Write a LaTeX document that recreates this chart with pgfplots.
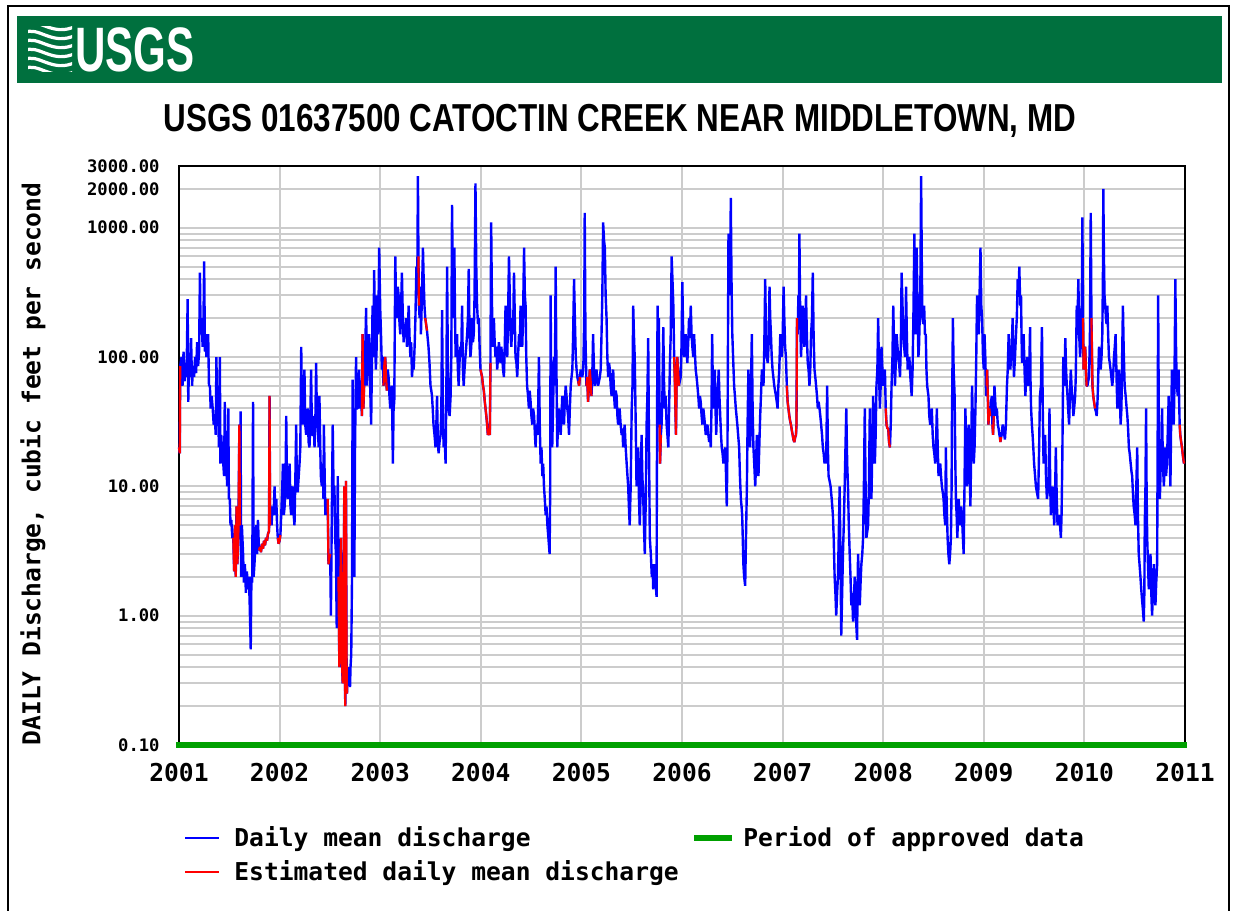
\documentclass[border=0pt]{standalone}
\usepackage{pgfplots}
\pgfplotsset{compat=1.18}
\usepackage{fontspec}
\setmainfont{Liberation Sans}
\newfontfamily\monob{DejaVu Sans Mono}
\definecolor{usgsgreen}{RGB}{0,112,62}
\definecolor{apgreen}{RGB}{0,160,0}
\definecolor{gridgray}{RGB}{204,204,204}
\pgfplotsset{est/.style={draw=red, mark=none, line width=1.1pt, line join=bevel}}
\begin{document}
\begin{tikzpicture}
\path[use as bounding box] (0,0) rectangle (616.5pt,455.5pt);
\begin{scope}[shift={(0pt,455.5pt)},x=0.5pt,y=-0.5pt]
  \draw[line width=1pt] (8,911) -- (8,6) -- (1229,6) -- (1229,911);
  \fill[usgsgreen] (17,16) rectangle (1222,83);
  \begin{scope}
    \clip (28,27) rectangle (72,72);
    \foreach \k in {0,...,5} {
      \draw[white, line width=1.6pt] (24,{24+9*\k}) .. controls (38,{16+9*\k}) and (52,{38+9*\k}) .. (76,{26+9*\k});
    }
  \end{scope}
  \node[white, inner sep=0pt] at (135,50) {\scalebox{0.67}[1]{\fontsize{31.4pt}{32pt}\selectfont\bfseries USGS}};
  \node[inner sep=0pt] at (620,121) {\scalebox{0.805}[1]{\fontsize{19.5pt}{20pt}\selectfont\bfseries USGS 01637500 CATOCTIN CREEK NEAR MIDDLETOWN, MD}};
  \node[inner sep=0pt, rotate=90] at (33,464) {\monob\bfseries\fontsize{12.3pt}{13pt}\selectfont DAILY Discharge, cubic feet per second};
  \draw[blue, line width=1pt] (185,838) -- (219,838);
  \node[anchor=base west, inner sep=0pt] at (234,847) {\monob\bfseries\fontsize{12.3pt}{13pt}\selectfont Daily mean discharge};
  \draw[red, line width=1pt] (185,872) -- (219,872);
  \node[anchor=base west, inner sep=0pt] at (234,881) {\monob\bfseries\fontsize{12.3pt}{13pt}\selectfont Estimated daily mean discharge};
  \draw[apgreen, line width=3pt] (694,838) -- (732,838);
  \node[anchor=base west, inner sep=0pt] at (743,847) {\monob\bfseries\fontsize{12.3pt}{13pt}\selectfont Period of approved data};
\end{scope}
\begin{axis}[
  at={(89.5pt,83pt)}, anchor=south west,
  scale only axis, width=503pt, height=289.5pt,
  ymode=log, xmin=2001, xmax=2011, ymin=0.1, ymax=3000,
  xtick={2001,2002,2003,2004,2005,2006,2007,2008,2009,2010,2011},
  xticklabels={2001,2002,2003,2004,2005,2006,2007,2008,2009,2010,2011},
  ytick={0.1,1,10,100,1000,2000,3000},
  yticklabels={0.10,1.00,10.00,100.00,1000.00,2000.00,3000.00},
  minor ytick={0.2,0.3,0.4,0.5,0.6,0.7,0.8,0.9,2,3,4,5,6,7,8,9,20,30,40,50,60,70,80,90,200,300,400,500,600,700,800,900},
  grid=both,
  major grid style={draw=gridgray, line width=1pt},
  minor grid style={draw=gridgray, line width=1pt},
  major tick length=0pt, minor tick length=0pt,
  axis line style={line width=1pt, black},
  xticklabel style={anchor=base, inner sep=0pt, yshift=-18.5pt, font=\monob\bfseries\fontsize{12.3pt}{13pt}\selectfont},
  yticklabel style={anchor=east, inner sep=0pt, xshift=-9.5pt, font=\monob\bfseries\fontsize{8.6pt}{9pt}\selectfont},
  clip=false,
]
\addplot[draw=blue, mark=none, line width=1.2pt, line join=bevel] coordinates {
(2001.000,20)(2001.008,18)(2001.012,85)(2001.025,100)(2001.035,60)(2001.045,110)(2001.055,65)(2001.065,90)(2001.075,70)(2001.086,280)
(2001.092,45)(2001.100,95)(2001.110,70)(2001.120,140)(2001.130,60)(2001.140,85)(2001.150,70)(2001.160,100)(2001.170,75)(2001.180,130)
(2001.190,85)(2001.200,110)(2001.208,450)(2001.215,150)(2001.224,200)(2001.235,120)(2001.243,180)(2001.250,550)(2001.258,110)(2001.264,150)
(2001.272,100)(2001.280,130)(2001.290,150)(2001.298,60)(2001.307,60)(2001.315,40)(2001.325,50)(2001.335,40)(2001.345,30)(2001.356,35)
(2001.365,25)(2001.372,100)(2001.380,30)(2001.388,60)(2001.396,20)(2001.406,100)(2001.412,15)(2001.420,25)(2001.428,18)(2001.440,15)
(2001.448,12)(2001.455,45)(2001.462,12)(2001.470,20)(2001.478,10)(2001.490,40)(2001.496,8)(2001.505,8)(2001.512,5)(2001.520,5.5)
(2001.530,4)(2001.540,4)(2001.548,2.2)(2001.556,5)(2001.564,2)(2001.572,7)(2001.580,2.5)(2001.590,4)(2001.600,30)(2001.606,5)
(2001.612,38)(2001.618,2)(2001.625,5)(2001.637,3)(2001.645,1.8)(2001.655,2.5)(2001.665,1.5)(2001.675,2.2)(2001.685,1.6)(2001.695,2)
(2001.703,1.2)(2001.713,0.55)(2001.720,2)(2001.728,1.8)(2001.736,45)(2001.742,2)(2001.750,2.5)(2001.760,3.5)(2001.768,5)(2001.776,3)
(2001.785,5.5)(2001.795,3.2)(2001.805,3.4)(2001.815,3.1)(2001.825,3.6)(2001.835,3.3)(2001.845,3.8)(2001.855,3.5)(2001.865,4)(2001.875,3.8)
(2001.885,4.3)(2001.895,4.5)(2001.900,50)(2001.906,5)(2001.912,7)(2001.920,5)(2001.930,7)(2001.940,6)(2001.950,10)(2001.958,6)
(2001.967,8)(2001.975,5)(2001.982,4)(2001.990,3.6)(2002.000,3.8)(2002.008,4.2)(2002.016,6)(2002.025,9)(2002.033,15)(2002.042,6)
(2002.050,7)(2002.058,10)(2002.066,35)(2002.074,9)(2002.082,8)(2002.090,12)(2002.100,15)(2002.108,7)(2002.115,6)(2002.123,9)
(2002.130,10)(2002.140,6)(2002.148,5)(2002.157,12)(2002.165,30)(2002.172,10)(2002.180,9)(2002.190,12)(2002.198,15)(2002.206,20)
(2002.215,120)(2002.222,40)(2002.230,30)(2002.238,50)(2002.247,80)(2002.255,30)(2002.264,25)(2002.272,35)(2002.280,40)(2002.288,22)
(2002.297,20)(2002.305,30)(2002.313,80)(2002.322,25)(2002.330,25)(2002.338,35)(2002.347,20)(2002.355,30)(2002.363,90)(2002.372,30)
(2002.380,30)(2002.388,20)(2002.396,50)(2002.404,20)(2002.410,12)(2002.420,10)(2002.430,15)(2002.436,8)(2002.440,30)(2002.448,12)
(2002.455,6)(2002.462,7)(2002.470,6)(2002.478,8)(2002.486,2.5)(2002.495,2.8)(2002.503,3)(2002.510,1.0)(2002.518,5)(2002.528,30)
(2002.536,10)(2002.545,10)(2002.552,4)(2002.560,3)(2002.568,0.8)(2002.574,3)(2002.578,12)(2002.585,2)(2002.594,0.4)(2002.600,1)
(2002.610,4)(2002.618,0.5)(2002.627,0.3)(2002.635,0.6)(2002.643,10)(2002.648,0.4)(2002.653,0.2)(2002.660,11)(2002.665,0.5)(2002.670,0.25)
(2002.677,0.35)(2002.683,0.3)(2002.690,0.4)(2002.700,0.28)(2002.705,0.4)(2002.712,0.5)(2002.720,2)(2002.726,67)(2002.732,10)(2002.738,5)
(2002.743,2)(2002.750,20)(2002.760,100)(2002.768,40)(2002.776,40)(2002.784,60)(2002.790,80)(2002.800,40)(2002.810,50)(2002.818,35)
(2002.825,150)(2002.833,40)(2002.840,60)(2002.850,100)(2002.860,240)(2002.868,60)(2002.875,100)(2002.882,80)(2002.890,150)(2002.900,60)
(2002.910,30)(2002.917,80)(2002.924,250)(2002.932,100)(2002.940,470)(2002.948,150)(2002.957,80)(2002.965,120)(2002.970,300)(2002.980,150)
(2002.990,700)(2003.000,240)(2003.008,150)(2003.017,80)(2003.025,100)(2003.033,60)(2003.042,90)(2003.050,100)(2003.058,70)(2003.066,55)
(2003.075,80)(2003.083,70)(2003.092,50)(2003.100,40)(2003.108,55)(2003.116,60)(2003.126,15)(2003.133,40)(2003.140,45)(2003.150,600)
(2003.158,250)(2003.166,200)(2003.175,350)(2003.183,300)(2003.192,180)(2003.200,150)(2003.208,250)(2003.216,450)(2003.225,200)(2003.233,130)
(2003.242,180)(2003.250,150)(2003.258,200)(2003.266,120)(2003.275,160)(2003.283,250)(2003.292,140)(2003.300,100)(2003.308,130)(2003.316,70)
(2003.325,90)(2003.333,80)(2003.342,120)(2003.350,200)(2003.360,500)(2003.368,300)(2003.375,2500)(2003.380,600)(2003.385,250)(2003.392,200)
(2003.398,350)(2003.405,150)(2003.415,300)(2003.425,700)(2003.432,400)(2003.440,250)(2003.448,200)(2003.456,180)(2003.465,160)(2003.472,140)
(2003.480,120)(2003.490,90)(2003.500,60)(2003.508,55)(2003.515,50)(2003.522,40)(2003.530,30)(2003.540,25)(2003.550,20)(2003.558,30)
(2003.565,50)(2003.572,25)(2003.580,18)(2003.590,22)(2003.600,25)(2003.608,40)(2003.615,230)(2003.622,50)(2003.630,20)(2003.640,25)
(2003.650,15)(2003.658,60)(2003.665,500)(2003.672,100)(2003.680,40)(2003.690,35)(2003.700,50)(2003.707,100)(2003.714,1500)(2003.722,400)
(2003.730,200)(2003.737,700)(2003.744,200)(2003.750,100)(2003.757,130)(2003.764,150)(2003.772,80)(2003.780,60)(2003.788,90)(2003.797,120)
(2003.805,100)(2003.814,250)(2003.822,80)(2003.830,60)(2003.838,80)(2003.847,100)(2003.855,120)(2003.864,150)(2003.872,200)(2003.880,480)
(2003.888,150)(2003.897,100)(2003.905,120)(2003.914,200)(2003.922,130)(2003.930,150)(2003.938,300)(2003.947,2200)(2003.955,500)(2003.963,250)
(2003.972,180)(2003.980,200)(2003.988,120)(2003.997,80)(2004.005,75)(2004.013,70)(2004.022,60)(2004.030,55)(2004.040,45)(2004.047,40)
(2004.055,35)(2004.063,30)(2004.070,25)(2004.080,26)(2004.090,25)(2004.096,90)(2004.103,1100)(2004.110,300)(2004.116,150)(2004.123,120)
(2004.130,200)(2004.138,130)(2004.146,100)(2004.154,120)(2004.163,80)(2004.171,100)(2004.180,130)(2004.188,110)(2004.196,90)(2004.204,120)
(2004.213,100)(2004.221,80)(2004.230,70)(2004.238,120)(2004.246,250)(2004.254,150)(2004.263,100)(2004.271,200)(2004.280,600)(2004.288,300)
(2004.296,150)(2004.304,120)(2004.313,200)(2004.321,150)(2004.330,450)(2004.338,200)(2004.345,100)(2004.354,90)(2004.362,70)(2004.370,100)
(2004.380,150)(2004.388,120)(2004.395,250)(2004.403,150)(2004.412,120)(2004.420,200)(2004.430,700)(2004.438,300)(2004.445,250)(2004.452,100)
(2004.460,60)(2004.470,50)(2004.478,40)(2004.486,55)(2004.495,45)(2004.503,35)(2004.512,30)(2004.520,40)(2004.530,35)(2004.538,25)
(2004.545,20)(2004.553,30)(2004.562,25)(2004.570,40)(2004.578,100)(2004.586,30)(2004.595,15)(2004.603,20)(2004.612,12)(2004.620,15)
(2004.628,10)(2004.636,8)(2004.645,6)(2004.653,7)(2004.662,5)(2004.672,4)(2004.684,3)(2004.690,10)(2004.694,300)(2004.700,60)
(2004.710,20)(2004.718,40)(2004.728,100)(2004.736,60)(2004.744,500)(2004.752,80)(2004.760,20)(2004.768,30)(2004.777,40)(2004.786,30)
(2004.794,25)(2004.802,35)(2004.810,50)(2004.818,40)(2004.827,30)(2004.835,45)(2004.844,60)(2004.852,50)(2004.860,40)(2004.868,35)
(2004.877,25)(2004.885,40)(2004.894,60)(2004.902,70)(2004.910,80)(2004.918,150)(2004.927,400)(2004.935,200)(2004.944,100)(2004.952,80)
(2004.960,70)(2004.968,65)(2004.977,60)(2004.985,70)(2004.993,80)(2005.001,75)(2005.010,70)(2005.020,90)(2005.028,200)(2005.033,1300)
(2005.040,150)(2005.050,60)(2005.058,70)(2005.066,45)(2005.075,60)(2005.083,80)(2005.092,65)(2005.100,50)(2005.108,70)(2005.116,150)
(2005.125,80)(2005.133,60)(2005.141,70)(2005.150,80)(2005.158,65)(2005.166,60)(2005.175,65)(2005.183,70)(2005.192,80)(2005.200,150)
(2005.208,300)(2005.216,1100)(2005.225,800)(2005.233,700)(2005.241,300)(2005.250,200)(2005.258,100)(2005.266,70)(2005.275,90)(2005.283,80)
(2005.291,60)(2005.300,50)(2005.308,65)(2005.316,80)(2005.325,50)(2005.333,40)(2005.341,55)(2005.350,50)(2005.358,35)(2005.365,30)
(2005.373,35)(2005.380,40)(2005.390,30)(2005.400,25)(2005.408,28)(2005.415,20)(2005.422,25)(2005.430,30)(2005.440,20)(2005.450,15)
(2005.458,12)(2005.465,10)(2005.472,7)(2005.480,5)(2005.490,10)(2005.500,40)(2005.508,60)(2005.515,250)(2005.522,150)(2005.530,100)
(2005.540,30)(2005.548,10)(2005.556,15)(2005.565,20)(2005.572,8)(2005.580,5)(2005.590,10)(2005.598,25)(2005.606,12)(2005.615,8)
(2005.622,5)(2005.630,3)(2005.640,8)(2005.648,30)(2005.656,50)(2005.664,140)(2005.672,20)(2005.680,4)(2005.690,3)(2005.700,2)
(2005.707,2.5)(2005.714,1.6)(2005.722,2)(2005.730,2.5)(2005.738,1.8)(2005.747,1.4)(2005.752,30)(2005.757,250)(2005.764,60)(2005.770,200)
(2005.778,30)(2005.782,15)(2005.790,25)(2005.797,30)(2005.805,50)(2005.814,170)(2005.822,60)(2005.830,40)(2005.838,50)(2005.847,30)
(2005.855,25)(2005.864,20)(2005.872,40)(2005.880,90)(2005.888,150)(2005.897,600)(2005.905,400)(2005.914,250)(2005.922,100)(2005.930,60)
(2005.940,25)(2005.947,70)(2005.953,100)(2005.960,80)(2005.970,60)(2005.978,65)(2005.987,70)(2005.995,120)(2006.003,380)(2006.012,150)
(2006.020,100)(2006.028,120)(2006.037,150)(2006.045,110)(2006.053,90)(2006.062,130)(2006.070,200)(2006.078,140)(2006.087,250)(2006.095,150)
(2006.103,120)(2006.112,100)(2006.120,150)(2006.128,110)(2006.136,80)(2006.145,70)(2006.153,60)(2006.162,50)(2006.170,40)(2006.178,50)
(2006.186,45)(2006.195,35)(2006.203,30)(2006.212,40)(2006.220,35)(2006.228,30)(2006.236,25)(2006.245,28)(2006.253,30)(2006.262,25)
(2006.270,22)(2006.278,25)(2006.286,20)(2006.293,40)(2006.300,150)(2006.306,60)(2006.312,40)(2006.320,50)(2006.326,80)(2006.333,40)
(2006.340,25)(2006.346,35)(2006.352,50)(2006.358,60)(2006.365,80)(2006.372,50)(2006.380,35)(2006.388,25)(2006.395,20)(2006.403,18)
(2006.412,15)(2006.420,18)(2006.430,20)(2006.438,12)(2006.445,7)(2006.452,20)(2006.458,200)(2006.462,900)(2006.470,600)(2006.478,300)
(2006.485,1700)(2006.492,400)(2006.500,150)(2006.508,100)(2006.518,60)(2006.526,50)(2006.535,40)(2006.542,35)(2006.550,30)(2006.558,25)
(2006.568,20)(2006.576,12)(2006.585,8)(2006.592,7)(2006.598,6)(2006.604,4)(2006.610,2.5)(2006.618,2)(2006.628,1.7)(2006.636,4)
(2006.645,10)(2006.652,30)(2006.660,80)(2006.668,40)(2006.678,20)(2006.686,60)(2006.694,150)(2006.702,40)(2006.710,20)(2006.718,15)
(2006.728,10)(2006.736,15)(2006.744,25)(2006.752,15)(2006.760,12)(2006.768,20)(2006.777,35)(2006.785,50)(2006.794,80)(2006.802,70)
(2006.810,60)(2006.818,120)(2006.827,400)(2006.835,150)(2006.844,100)(2006.852,90)(2006.860,120)(2006.870,350)(2006.877,200)(2006.884,150)
(2006.892,100)(2006.900,80)(2006.908,70)(2006.917,60)(2006.925,55)(2006.934,50)(2006.942,45)(2006.950,40)(2006.958,60)(2006.967,80)
(2006.977,150)(2006.985,120)(2006.993,100)(2007.001,150)(2007.010,350)(2007.017,200)(2007.025,120)(2007.033,100)(2007.042,60)(2007.050,45)
(2007.058,40)(2007.067,35)(2007.075,32)(2007.083,30)(2007.092,27)(2007.100,25)(2007.108,23)(2007.117,22)(2007.125,24)(2007.133,25)
(2007.138,30)(2007.143,200)(2007.150,150)(2007.157,300)(2007.162,200)(2007.167,900)(2007.175,200)(2007.183,100)(2007.192,150)(2007.200,250)
(2007.208,150)(2007.217,120)(2007.225,180)(2007.233,300)(2007.241,150)(2007.250,90)(2007.258,80)(2007.267,60)(2007.275,80)(2007.283,150)
(2007.292,200)(2007.300,450)(2007.308,150)(2007.317,80)(2007.325,70)(2007.333,60)(2007.342,50)(2007.350,40)(2007.358,45)(2007.367,40)
(2007.375,35)(2007.383,30)(2007.392,25)(2007.400,20)(2007.408,18)(2007.417,15)(2007.425,17)(2007.433,15)(2007.443,60)(2007.450,20)
(2007.457,12)(2007.467,11)(2007.477,10)(2007.488,8)(2007.500,6)(2007.508,4)(2007.517,2)(2007.525,1.5)(2007.533,1)(2007.542,1.5)
(2007.550,2)(2007.558,4)(2007.567,10)(2007.575,3)(2007.583,0.7)(2007.592,1.5)(2007.600,3)(2007.608,5)(2007.617,10)(2007.625,20)
(2007.633,40)(2007.642,15)(2007.650,10)(2007.658,5)(2007.667,3)(2007.675,2)(2007.683,1.2)(2007.692,1.5)(2007.700,0.9)(2007.708,1.3)
(2007.717,2)(2007.728,1)(2007.740,0.65)(2007.745,1.5)(2007.750,3)(2007.758,2)(2007.767,1.2)(2007.775,1.8)(2007.783,2.5)(2007.792,3)
(2007.800,4)(2007.808,10)(2007.817,40)(2007.825,10)(2007.833,4)(2007.842,4.5)(2007.850,5)(2007.858,10)(2007.867,40)(2007.875,15)
(2007.883,8)(2007.892,20)(2007.900,50)(2007.908,25)(2007.917,15)(2007.925,25)(2007.933,60)(2007.942,80)(2007.950,200)(2007.958,80)
(2007.967,40)(2007.975,60)(2007.983,120)(2007.992,80)(2008.000,60)(2008.008,70)(2008.017,80)(2008.025,40)(2008.033,30)(2008.042,28)
(2008.050,28)(2008.058,22)(2008.067,20)(2008.075,30)(2008.083,60)(2008.092,100)(2008.100,250)(2008.108,120)(2008.117,60)(2008.125,90)
(2008.133,150)(2008.142,120)(2008.150,100)(2008.158,90)(2008.167,70)(2008.175,120)(2008.183,450)(2008.192,250)(2008.200,150)(2008.208,120)
(2008.217,100)(2008.222,150)(2008.227,350)(2008.235,150)(2008.243,80)(2008.252,90)(2008.260,100)(2008.270,70)(2008.283,50)(2008.292,80)
(2008.300,200)(2008.310,900)(2008.317,300)(2008.323,150)(2008.328,300)(2008.333,700)(2008.342,200)(2008.350,100)(2008.356,120)(2008.363,200)
(2008.370,400)(2008.377,2500)(2008.384,500)(2008.390,200)(2008.398,180)(2008.407,250)(2008.415,150)(2008.423,150)(2008.430,80)(2008.437,60)
(2008.443,55)(2008.450,50)(2008.458,35)(2008.467,30)(2008.475,35)(2008.483,40)(2008.492,25)(2008.500,20)(2008.508,18)(2008.517,15)
(2008.525,20)(2008.533,40)(2008.542,20)(2008.550,12)(2008.558,14)(2008.567,15)(2008.575,12)(2008.583,10)(2008.592,9)(2008.600,8)
(2008.608,6)(2008.617,5)(2008.623,20)(2008.630,8)(2008.640,4)(2008.648,3)(2008.657,2.5)(2008.665,3)(2008.673,4)(2008.680,10)
(2008.683,30)(2008.693,200)(2008.700,80)(2008.710,50)(2008.717,15)(2008.723,8)(2008.730,6)(2008.737,4)(2008.744,6)(2008.750,8)
(2008.758,6)(2008.767,5)(2008.775,7)(2008.783,6)(2008.792,4)(2008.800,3)(2008.808,10)(2008.817,40)(2008.825,20)(2008.833,10)
(2008.842,15)(2008.850,30)(2008.858,15)(2008.867,7)(2008.875,20)(2008.883,60)(2008.892,30)(2008.900,15)(2008.908,20)(2008.917,40)
(2008.925,100)(2008.933,300)(2008.942,200)(2008.950,150)(2008.958,300)(2008.967,700)(2008.975,250)(2008.983,200)(2008.992,100)(2009.000,80)
(2009.007,150)(2009.015,100)(2009.023,50)(2009.028,60)(2009.033,80)(2009.040,50)(2009.046,30)(2009.055,40)(2009.063,35)(2009.071,45)
(2009.080,50)(2009.086,30)(2009.092,25)(2009.099,35)(2009.106,60)(2009.114,45)(2009.122,35)(2009.130,40)(2009.139,30)(2009.147,28)
(2009.155,25)(2009.160,24)(2009.165,22)(2009.172,24)(2009.178,25)(2009.187,30)(2009.195,28)(2009.203,25)(2009.210,23)(2009.220,30)
(2009.230,60)(2009.238,80)(2009.247,150)(2009.255,100)(2009.264,80)(2009.270,100)(2009.277,120)(2009.287,200)(2009.294,100)(2009.300,70)
(2009.310,100)(2009.320,150)(2009.328,200)(2009.337,400)(2009.345,300)(2009.353,500)(2009.362,250)(2009.370,300)(2009.375,150)(2009.380,90)
(2009.388,120)(2009.396,150)(2009.405,80)(2009.413,50)(2009.422,70)(2009.430,100)(2009.438,80)(2009.446,60)(2009.454,100)(2009.460,170)
(2009.465,60)(2009.470,40)(2009.478,30)(2009.485,25)(2009.492,20)(2009.500,15)(2009.510,12)(2009.518,10)(2009.528,9)(2009.540,8)
(2009.550,20)(2009.558,50)(2009.568,60)(2009.578,170)(2009.586,40)(2009.594,15)(2009.602,20)(2009.610,25)(2009.618,12)(2009.627,8)
(2009.635,9)(2009.644,10)(2009.653,40)(2009.660,10)(2009.667,6)(2009.675,8)(2009.683,10)(2009.692,7)(2009.700,5)(2009.708,8)
(2009.716,20)(2009.725,8)(2009.733,5)(2009.742,5.5)(2009.750,6)(2009.758,5)(2009.766,4)(2009.773,6)(2009.780,15)(2009.790,100)
(2009.798,60)(2009.805,80)(2009.810,140)(2009.818,80)(2009.825,60)(2009.832,50)(2009.838,40)(2009.848,30)(2009.856,50)(2009.865,80)
(2009.872,60)(2009.880,50)(2009.890,35)(2009.898,40)(2009.908,50)(2009.914,70)(2009.924,250)(2009.932,200)(2009.940,400)(2009.948,150)
(2009.957,100)(2009.963,120)(2009.970,150)(2009.976,400)(2009.980,1200)(2009.986,200)(2009.992,80)(2010.000,100)(2010.008,120)(2010.015,80)
(2010.022,60)(2010.030,60)(2010.038,65)(2010.046,70)(2010.055,150)(2010.063,1300)(2010.070,200)(2010.080,60)(2010.088,50)(2010.096,45)
(2010.106,40)(2010.114,38)(2010.122,35)(2010.130,45)(2010.135,60)(2010.145,120)(2010.153,90)(2010.162,80)(2010.170,100)(2010.178,150)
(2010.184,400)(2010.188,2000)(2010.194,600)(2010.200,300)(2010.207,250)(2010.214,200)(2010.220,180)(2010.228,250)(2010.236,150)(2010.244,100)
(2010.252,90)(2010.260,80)(2010.268,70)(2010.277,60)(2010.285,70)(2010.294,100)(2010.302,120)(2010.310,150)(2010.318,80)(2010.327,40)
(2010.335,60)(2010.343,80)(2010.352,50)(2010.360,30)(2010.368,40)(2010.375,100)(2010.383,250)(2010.390,120)(2010.400,60)(2010.410,50)
(2010.420,40)(2010.427,35)(2010.432,30)(2010.437,25)(2010.442,20)(2010.450,18)(2010.460,15)(2010.468,13)(2010.475,12)(2010.482,9)
(2010.490,7)(2010.500,6)(2010.508,5)(2010.516,10)(2010.525,20)(2010.532,6)(2010.540,3)(2010.548,2.5)(2010.557,2)(2010.565,1.6)
(2010.574,1.3)(2010.582,1.1)(2010.590,0.9)(2010.596,1.5)(2010.600,5)(2010.607,10)(2010.613,40)(2010.618,10)(2010.624,4)(2010.632,2.5)
(2010.640,1.6)(2010.648,2)(2010.657,3)(2010.665,1.5)(2010.673,1)(2010.681,1.5)(2010.690,2.5)(2010.698,1.8)(2010.706,1.2)(2010.714,1.8)
(2010.723,2.5)(2010.728,20)(2010.733,300)(2010.740,30)(2010.750,8)(2010.756,12)(2010.762,20)(2010.767,15)(2010.772,40)(2010.780,15)
(2010.790,10)(2010.798,15)(2010.805,20)(2010.812,12)(2010.820,15)(2010.828,25)(2010.838,50)(2010.846,20)(2010.855,10)(2010.862,30)
(2010.870,80)(2010.880,40)(2010.888,30)(2010.895,60)(2010.904,400)(2010.912,100)(2010.920,60)(2010.928,50)(2010.937,80)(2010.942,45)
(2010.947,30)(2010.953,25)(2010.962,22)(2010.970,20)(2010.980,17)(2010.990,15)
};
\addplot[est] coordinates {(2001.000,20)(2001.008,18)(2001.012,85)};
\addplot[est] coordinates {(2001.540,4)(2001.548,2.2)(2001.556,5)(2001.564,2)(2001.572,7)(2001.580,2.5)(2001.590,4)(2001.600,30)(2001.606,5)};
\addplot[est] coordinates {(2001.795,3.2)(2001.805,3.4)(2001.815,3.1)(2001.825,3.6)(2001.835,3.3)(2001.845,3.8)(2001.855,3.5)(2001.865,4)(2001.875,3.8)(2001.885,4.3)(2001.895,4.5)(2001.900,50)(2001.906,5)};
\addplot[est] coordinates {(2001.982,4)(2001.990,3.6)(2002.000,3.8)(2002.008,4.2)};
\addplot[est] coordinates {(2002.478,8)(2002.486,2.5)(2002.495,2.8)(2002.503,3)};
\addplot[est] coordinates {(2002.585,2)(2002.594,0.4)(2002.600,1)(2002.610,4)(2002.618,0.5)(2002.627,0.3)(2002.635,0.6)(2002.643,10)(2002.648,0.4)(2002.653,0.2)(2002.660,11)(2002.665,0.5)(2002.670,0.25)};
\addplot[est] coordinates {(2002.818,35)(2002.825,150)(2002.833,40)(2002.840,60)};
\addplot[est] coordinates {(2003.033,60)(2003.042,90)(2003.050,100)(2003.058,70)(2003.066,55)};
\addplot[est] coordinates {(2003.380,600)(2003.385,250)};
\addplot[est] coordinates {(2003.448,200)(2003.456,180)(2003.465,160)};
\addplot[est] coordinates {(2003.997,80)(2004.005,75)(2004.013,70)(2004.022,60)(2004.030,55)(2004.040,45)(2004.047,40)(2004.055,35)(2004.063,30)(2004.070,25)(2004.080,26)(2004.090,25)(2004.096,90)};
\addplot[est] coordinates {(2004.968,65)(2004.977,60)(2004.985,70)};
\addplot[est] coordinates {(2005.050,60)(2005.058,70)(2005.066,45)(2005.075,60)(2005.083,80)(2005.092,65)(2005.100,50)};
\addplot[est] coordinates {(2005.778,30)(2005.782,15)(2005.790,25)};
\addplot[est] coordinates {(2005.922,100)(2005.930,60)(2005.940,25)(2005.947,70)(2005.953,100)(2005.960,80)(2005.970,60)};
\addplot[est] coordinates {(2007.042,60)(2007.050,45)(2007.058,40)(2007.067,35)(2007.075,32)(2007.083,30)(2007.092,27)(2007.100,25)(2007.108,23)(2007.117,22)(2007.125,24)(2007.133,25)(2007.138,30)(2007.143,200)};
\addplot[est] coordinates {(2008.025,40)(2008.033,30)(2008.042,28)(2008.050,28)(2008.058,22)(2008.067,20)};
\addplot[est] coordinates {(2009.028,60)(2009.033,80)(2009.040,50)(2009.046,30)(2009.055,40)(2009.063,35)};
\addplot[est] coordinates {(2009.086,30)(2009.092,25)(2009.099,35)};
\addplot[est] coordinates {(2009.160,24)(2009.165,22)(2009.172,24)};
\addplot[est] coordinates {(2009.986,200)(2009.992,80)(2010.000,100)(2010.008,120)(2010.015,80)(2010.022,60)(2010.030,60)};
\addplot[est] coordinates {(2010.070,200)(2010.080,60)(2010.088,50)(2010.096,45)(2010.106,40)};
\addplot[est] coordinates {(2010.947,30)(2010.953,25)(2010.962,22)(2010.970,20)(2010.980,17)(2010.990,15)};
\addplot[draw=apgreen, mark=none, line width=3pt] coordinates {(2000.97,0.1)(2011.02,0.1)};
\end{axis}
\end{tikzpicture}
\end{document}
